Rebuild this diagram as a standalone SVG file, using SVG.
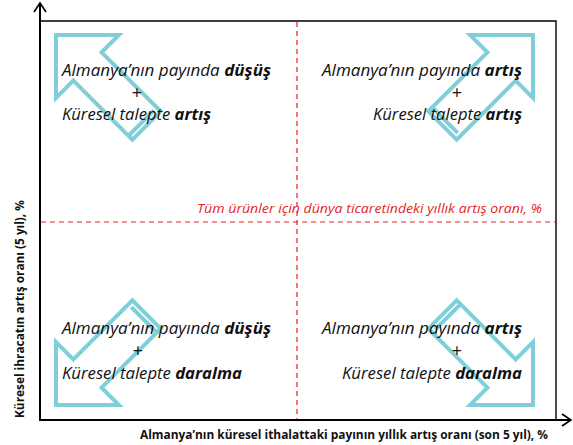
<svg xmlns="http://www.w3.org/2000/svg" width="573" height="445" viewBox="0 0 573 445">
<style>
.q{font-family:"Open Sans","Liberation Sans",sans-serif;font-style:italic;font-size:16.5px;fill:#111}
.q .b{font-weight:bold}
.plus{font-family:"Open Sans","Liberation Sans",sans-serif;font-size:18px;fill:#111;text-anchor:middle}
.arr{fill:none;stroke:#80cfd8;stroke-width:4;stroke-linejoin:miter}
.red{stroke:#e41e26;stroke-width:1.2;stroke-dasharray:5 4;fill:none}
.ax{stroke:#000;fill:none}
.lab{font-family:"Open Sans","Liberation Sans",sans-serif;font-weight:bold;font-size:12.5px;fill:#111}
</style>
<defs>
<g id="arrowShape">
<path class="arr" d="M0,0 L44.5,44.5 L20,44.5 L20,128 L-20,128 L-20,44.5 L-44.5,44.5 Z"/>
<line class="arr" x1="-20" y1="122.5" x2="16" y2="122.5" stroke-width="3"/>
</g>
</defs>
<rect width="573" height="445" fill="#fff"/>
<g id="connectors">
<line class="red" x1="297" y1="22" x2="297" y2="419"/>
<line class="red" x1="41" y1="222" x2="555" y2="222"/>
<polyline class="ax" stroke-width="1.4" points="40,21 556,21 556,420"/>
<line class="ax" stroke-width="2" x1="40" y1="421" x2="40" y2="3"/>
<polyline class="ax" stroke-width="1.6" points="34,12 40,3 46,12"/>
<line class="ax" stroke-width="2" x1="39" y1="420" x2="571" y2="420"/>
<polyline class="ax" stroke-width="1.6" points="562,414 571,420 562,426"/>
</g>
<g id="quadrant-top-left">
<use href="#arrowShape" transform="translate(56,35) rotate(-45)"/>
<text class="q" x="62" y="76" textLength="209" lengthAdjust="spacingAndGlyphs">Almanya’nın payında <tspan class="b">düşüş</tspan></text>
<text class="plus" x="137" y="99">+</text>
<text class="q" x="62" y="120" textLength="149" lengthAdjust="spacingAndGlyphs">Küresel talepte <tspan class="b">artış</tspan></text>
</g>
<g id="quadrant-top-right">
<use href="#arrowShape" transform="translate(533,35) rotate(45)"/>
<text class="q" x="322" y="76" textLength="200" lengthAdjust="spacingAndGlyphs">Almanya’nın payında <tspan class="b">artış</tspan></text>
<text class="plus" x="457" y="99">+</text>
<text class="q" x="373" y="120" textLength="149" lengthAdjust="spacingAndGlyphs">Küresel talepte <tspan class="b">artış</tspan></text>
</g>
<g id="quadrant-bottom-left">
<use href="#arrowShape" transform="translate(56,405) rotate(-135)"/>
<text class="q" x="62" y="334" textLength="209" lengthAdjust="spacingAndGlyphs">Almanya’nın payında <tspan class="b">düşüş</tspan></text>
<text class="plus" x="138" y="357">+</text>
<text class="q" x="62" y="379" textLength="180" lengthAdjust="spacingAndGlyphs">Küresel talepte <tspan class="b">daralma</tspan></text>
</g>
<g id="quadrant-bottom-right">
<use href="#arrowShape" transform="translate(533,405) rotate(135)"/>
<text class="q" x="322" y="334" textLength="200" lengthAdjust="spacingAndGlyphs">Almanya’nın payında <tspan class="b">artış</tspan></text>
<text class="plus" x="457" y="357">+</text>
<text class="q" x="342" y="379" textLength="180" lengthAdjust="spacingAndGlyphs">Küresel talepte <tspan class="b">daralma</tspan></text>
</g>
<g id="world-trade-label">
<text x="197" y="213" textLength="345" lengthAdjust="spacingAndGlyphs" style="font-family:'Open Sans','Liberation Sans',sans-serif;font-style:italic;font-size:13.5px;fill:#e41e26">Tüm ürünler için dünya ticaretindeki yıllık artış oranı, %</text>
</g>
<g id="axis-labels">
<text class="lab" x="140" y="439" textLength="408" lengthAdjust="spacingAndGlyphs">Almanya’nın küresel ithalattaki payının yıllık artış oranı (son 5 yıl), %</text>
<text class="lab" transform="translate(24,418) rotate(-90)" x="0" y="0" textLength="218" lengthAdjust="spacingAndGlyphs">Küresel ihracatın artış oranı (5 yıl), %</text>
</g>
</svg>
